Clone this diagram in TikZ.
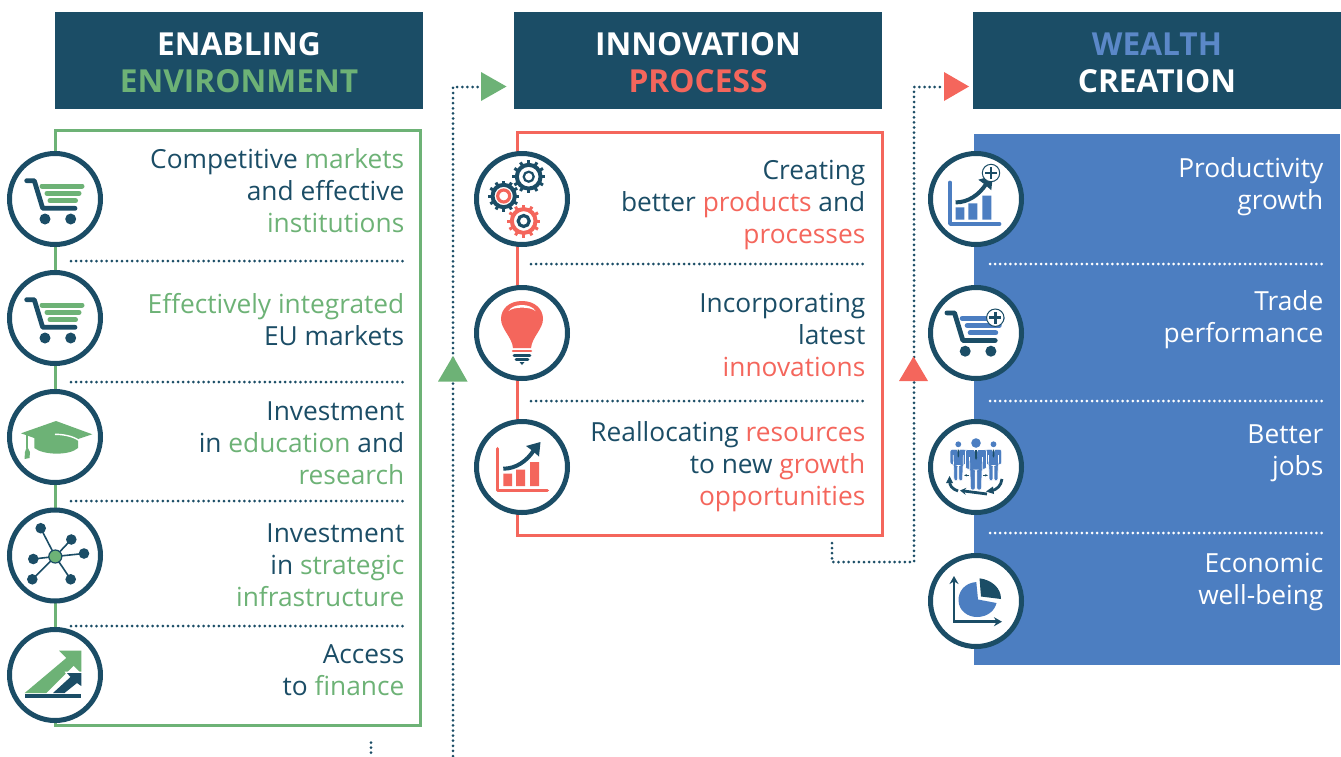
\documentclass[tikz,border=0pt]{standalone}
\usepackage{fontspec}
\setmainfont{Open Sans}
\usetikzlibrary{arrows.meta}
\definecolor{navy}{HTML}{1B4D66}
\definecolor{grn}{HTML}{6DB276}
\definecolor{rd}{HTML}{F4665C}
\definecolor{blu}{HTML}{4C7EC1}
\definecolor{wblu}{HTML}{5B88C8}
\tikzset{
  header/.style={fill=navy,draw=none},
  headtext/.style={font=\fontsize{31.7}{37}\selectfont\bfseries,text=white,align=center,inner sep=0pt},
  bodytext/.style={font=\fontsize{26.3}{32}\selectfont,text=navy,align=right,inner sep=0pt,anchor=base east},
  whitetext/.style={bodytext,text=white},
  dots/.style={navy,line width=3pt,dash pattern=on 0pt off 5.1pt,line cap=round},
  wdots/.style={dots,white},
  ringc/.style={draw=navy,line width=5pt,fill=white},
}
\newcommand\ring[2]{\path[ringc] (#1,#2) circle[radius=45.5pt];}
\newcommand\cartpic[1]{
  \draw[navy,line width=4.8pt,line cap=round,line join=round] (-28.3,18.3) -- (-20.7,18.3) -- (-12.3,-9.3) -- (20,-9.3);
  \fill[navy] (-10,-20) circle[radius=5.5pt] (15.7,-20) circle[radius=5.5pt];
  \draw[#1,line width=5pt,line cap=round] (-13,13) -- (27,13) (-8,5.7) -- (24,5.7) (-5,-1.7) -- (20.5,-1.7);
}
\newcommand\chartpic[1]{
  \draw[#1,line width=3.5pt,line cap=round,line join=round] (-24.3,18.3) -- (-24.3,-23.3) -- (25.3,-23.3);
  \fill[#1] (-18.7,-19) rectangle (-10,-6.7) (-6,-19) rectangle (3,-2.7) (8,-19) rectangle (17,5);
  \draw[navy,line width=4pt] (-18.7,-1.7) .. controls (-6,-1.7) and (5,6) .. (12,17);
  \fill[navy] (18.5,25) -- (4,21) -- (9.5,17) -- (17,10.5) -- cycle;
}
\newcommand\plusbadge[2]{
  \path[draw=navy,line width=1pt,fill=white] (#1,#2) circle[radius=8.7pt];
  \draw[navy,line width=2.6pt] (#1-6,#2) -- (#1+6,#2) (#1,#2-6) -- (#1,#2+6);
}
\newcommand\gearpic[7]{% x y R teethcol ringr ringw ringcol
  \begin{scope}[shift={(#1,#2)}]
    \foreach \a in {0,30,...,330}{\draw[#4,line width=3pt] (0,0) -- (\a:#3pt);}
    \path[draw=#4,line width=4pt,fill=white] (0,0) circle[radius=#3pt*0.72];
    \draw[#7,line width=#6pt] (0,0) circle[radius=#5pt];
  \end{scope}
}
\newcommand\manpic[3]{% x y scale
  \begin{scope}[shift={(#1,#2)},scale=#3]
    \fill[blu] (0,24) circle[radius=4.8pt*#3];
    \path[fill=blu,draw=white,line width=0.6pt,rounded corners=2pt] (-10.5,17.5) -- (10.5,17.5) -- (10.5,-2) -- (6,-2) -- (5.5,-23) -- (0.8,-23) -- (0.8,-3) -- (-0.8,-3) -- (-0.8,-23) -- (-5.5,-23) -- (-6,-2) -- (-10.5,-2) -- cycle;
    \draw[white,line width=0.7pt] (-6.5,10) -- (-6.2,-2) (6.5,10) -- (6.2,-2);
    \fill[white] (-2.5,18) -- (2.5,18) -- (0,13) -- cycle;
    \fill[navy] (-0.9,17) -- (0.9,17) -- (1,9) -- (0,7) -- (-1,9) -- cycle;
  \end{scope}
}
\begin{document}
\begin{tikzpicture}[x=1pt,y=1pt,yscale=-1]
\useasboundingbox (0,0) rectangle (1341,756);
% headers
\path[header] (55,12) rectangle (423,109);
\path[header] (514,12) rectangle (882,109);
\path[header] (973,12) rectangle (1341,109);
\node[headtext] (h1) at (239,63) {ENABLING\\[0pt]\textcolor{grn}{ENVIRONMENT}};
\node[headtext] (h2) at (698,63) {INNOVATION\\[0pt]\textcolor{rd}{PROCESS}};
\node[headtext] (h3) at (1157,63) {\textcolor{wblu}{WEALTH}\\[0pt]CREATION};
% panels
\draw[grn,line width=3pt] (55,130) rectangle (420,725);
\draw[rd,line width=3pt] (517,132) rectangle (882,535);
\fill[blu] (974,134) rectangle (1340,665);
% separators
\foreach \y/\n in {261/a,382/b,501/c,626/d}{
  \coordinate (gl\n) at (71,\y); \coordinate (gr\n) at (405,\y);
  \draw[dots] (gl\n) -- (gr\n);}
\foreach \y/\n in {264/a,401/b}{
  \coordinate (rl\n) at (531,\y); \coordinate (rr\n) at (866,\y);
  \draw[dots] (rl\n) -- (rr\n);}
\foreach \y/\n in {264/a,401/b,533/c}{
  \coordinate (bl\n) at (990,\y); \coordinate (br\n) at (1325,\y);
  \draw[wdots] (bl\n) -- (br\n);}
% connectors
\coordinate (gstub1) at (371,742.5); \coordinate (gstub2) at (371,756);
\coordinate (gup0) at (453,756); \coordinate (gcorner) at (453,87); \coordinate (gend) at (481,87);
\draw[dots] (gstub1) -- (gstub2);
\draw[dots] (gup0) -- (gcorner) -- (gend);
\coordinate (rstart) at (832,543); \coordinate (rc1) at (832,562); \coordinate (rc2) at (914,562);
\coordinate (rc3) at (914,87); \coordinate (rend) at (944,87);
\draw[dots] (rstart) -- (rc1) -- (rc2) -- (rc3) -- (rend);
\fill[grn] (453,356) -- (467.5,381.5) -- (438,381.5) -- cycle;
\fill[grn] (481,72) -- (506.5,86.5) -- (481,101) -- cycle;
\fill[rd] (913.5,356.5) -- (928,381) -- (899,381) -- cycle;
\fill[rd] (944,72) -- (969,86.5) -- (944,101) -- cycle;
% rings
\foreach \y in {199,318,437,555.5,675}{\ring{55}{\y}}
\foreach \y in {199,333,467}{\ring{522}{\y}}
\foreach \y in {199,333,467,601}{\ring{976}{\y}}
% icons -- green
\begin{scope}[shift={(55,199)},yscale=-1]\cartpic{grn}\end{scope}
\begin{scope}[shift={(55,318)},yscale=-1]\cartpic{grn}\end{scope}
% cap
\begin{scope}[shift={(55,437)}]
  \fill[grn] (-20.7,1) -- (-20.7,11) .. controls (-12,18) and (14,19) .. (23,11) -- (23,1) -- cycle;
  \fill[grn] (1,-16) -- (37.3,-2.7) -- (1.7,9) -- (-34,-3.7) -- cycle;
  \draw[white,line width=1.4pt] (0,-2.7) .. controls (8,-2.7) and (18,-1) .. (24,3.5);
  \draw[grn,line width=1.6pt] (-28,-2) -- (-28,11);
  \fill[grn] (-28,9) -- (-25,15) -- (-25.5,21) -- (-30.5,22) -- (-30,15) -- cycle;
\end{scope}
% network
\begin{scope}[shift={(55,555.5)}]
  \foreach \p in {(-14.3,-27.3),(16.3,-16),(29,-2),(-21.7,3.5),(-22.7,23.8),(15.7,23.8)}{
    \draw[navy,line width=1.6pt] (0.3,1) -- \p;
    \fill[navy] \p circle[radius=5.3pt];}
  \path[draw=navy,line width=1.2pt,fill=grn] (0.3,1) circle[radius=6.5pt];
\end{scope}
% finance
\begin{scope}[shift={(55,675)}]
  \path[fill=grn] (-30.3,18) -- (-8.7,18) -- (18.7,-9.3) -- (26.3,-1.7) -- (26.3,-24.3) -- (4,-24.3) -- (11.3,-17) -- cycle;
  \path[fill=white] (-4.5,19) -- (10,19) -- (22,9) -- (27,13) -- (27,-3.5) -- (9.5,-3.5) -- (13,2) -- cycle;
  \path[fill=navy] (-2,18) -- (9.5,18) -- (22,8) -- (26.3,11) -- (26.3,-2) -- (12,-2) -- (15.5,2) -- cycle;
  \fill[navy] (-30.3,19.2) rectangle (26.3,23);
\end{scope}
% icons -- red
\gearpic{528.7}{176.7}{16.5}{navy}{5}{2.2}{navy}
\gearpic{503.7}{196}{15.5}{navy}{6}{3.2}{rd}
\gearpic{523.7}{221}{16.5}{rd}{5.5}{3.2}{navy}
\begin{scope}[shift={(522,333)}]
  \fill[rd] (0,-32) .. controls (13,-32) and (21,-24) .. (21,-14) .. controls (21,-4) and (10,4) .. (9,15) -- (-9,15) .. controls (-10,4) and (-21,-4) .. (-21,-14) .. controls (-21,-24) and (-13,-32) .. (0,-32) -- cycle;
  \fill[white] (-13.5,-22) .. controls (-9,-30) and (9,-30) .. (13.5,-22) .. controls (8,-26.5) and (-8,-26.5) .. (-13.5,-22) -- cycle;
  \draw[rd,line width=2.6pt,line cap=round] (-9,17.8) -- (9,17.8);
  \draw[navy,line width=2.6pt,line cap=round] (-8,22.3) -- (8,22.3) (-6,26.6) -- (6,26.6);
  \fill[navy] (-2.5,29) -- (2.5,29) -- (0,32) -- cycle;
\end{scope}
\begin{scope}[shift={(522,467)},yscale=-1]\chartpic{rd}\end{scope}
% icons -- blue
\begin{scope}[shift={(974.5,334.7)},yscale=-1]\begin{scope}[shift={(0.7,3.5)}]\cartpic{blu}\end{scope}\end{scope}
\plusbadge{995.3}{317.7}
\begin{scope}[shift={(974.3,200.7)},yscale=-1]\chartpic{blu}\end{scope}
\plusbadge{991}{173}
\begin{scope}[shift={(976,467)}]
  \draw[navy,line width=2.8pt,-{Stealth[length=6pt,width=7pt]}] (11,27) -- (-16,23.5);
  \draw[navy,line width=2.8pt] (15,24) .. controls (21,22.5) and (25,19) .. (26,12);
  \fill[navy] (10,24.5) -- (17,19.5) -- (18,27) -- cycle;
  \draw[navy,line width=2.8pt] (-18,24) .. controls (-24,22) and (-27,18) .. (-26,14);
  \fill[navy] (-26.5,9) -- (-30,16) -- (-23,16) -- cycle;
  \draw[navy,line width=1.2pt,{Stealth[length=3pt]}-] (-12,8.3) -- (-7,8.3);
  \draw[navy,line width=1.2pt,{Stealth[length=3pt]}-] (12,8.3) -- (7,8.3);
  \begin{scope}[yscale=-1]
    \manpic{-17.7}{4}{0.78}
    \manpic{17.5}{4}{0.78}
    \manpic{0}{0}{1}
  \end{scope}
\end{scope}
\begin{scope}[shift={(976,601)}]
  \draw[navy,line width=2.8pt,{Stealth[length=8pt,width=9pt]}-{Stealth[length=8pt,width=9pt]}] (-22,-25) -- (-22,20.7) -- (26,20.7);
  \fill[blu] (0.3,-19) .. controls (-12,-18) and (-17.5,-9) .. (-17.5,-1) .. controls (-17.5,10) and (-8,16) .. (1,16) .. controls (12,16) and (19,9) .. (20.5,2) -- (2,-1.5) -- cycle;
  \fill[navy] (3.5,-22.7) .. controls (16,-21) and (25,-13) .. (25,-2) -- (5,-4.5) -- cycle;
\end{scope}
% text (positions are last-line baselines)
\node[bodytext] (t1) at (404.5,232) {Competitive \textcolor{grn}{markets}\\and effective\\\textcolor{grn}{institutions}};
\node[bodytext] (t2) at (404.5,345) {\textcolor{grn}{Effectively integrated}\\EU markets};
\node[bodytext] (t3) at (404.5,484) {Investment\\in \textcolor{grn}{education} and\\\textcolor{grn}{research}};
\node[bodytext] (t4) at (404.5,606) {Investment\\in \textcolor{grn}{strategic}\\\textcolor{grn}{infrastructure}};
\node[bodytext] (t5) at (404.5,695) {Access\\to \textcolor{grn}{finance}};
\node[bodytext] (t6) at (865.5,243) {Creating\\better \textcolor{rd}{products} and\\\textcolor{rd}{processes}};
\node[bodytext] (t7) at (865.5,376) {Incorporating\\latest\\\textcolor{rd}{innovations}};
\node[bodytext] (t8) at (865.5,505) {Reallocating \textcolor{rd}{resources}\\to new \textcolor{rd}{growth}\\\textcolor{rd}{opportunities}};
\node[whitetext] (t9) at (1323.5,209) {Productivity\\growth};
\node[whitetext] (t10) at (1323.5,342) {Trade\\performance};
\node[whitetext] (t11) at (1323.5,475) {Better\\jobs};
\node[whitetext] (t12) at (1323.5,604) {Economic\\well-being};
\end{tikzpicture}
\end{document}
